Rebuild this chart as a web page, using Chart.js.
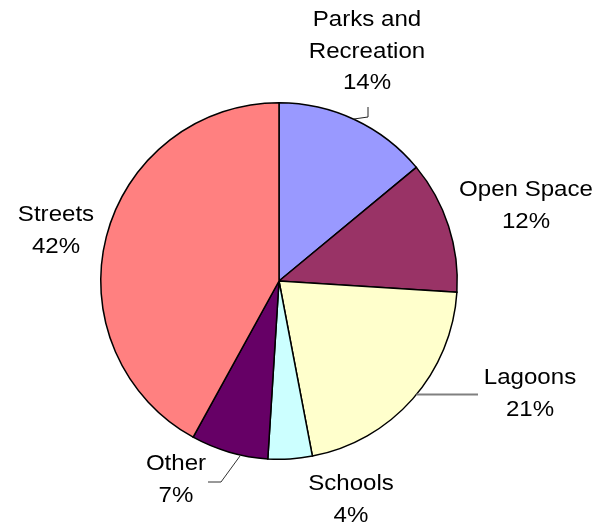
<!DOCTYPE html>
<html>
<head>
<meta charset="utf-8">
<script src="https://cdn.jsdelivr.net/npm/chart.js@4/dist/chart.umd.min.js"></script>
<style>
html,body{margin:0;padding:0;background:#fff;}
#wrap{width:603px;height:525px;position:relative;}
</style>
</head>
<body>
<div id="wrap"><canvas id="c" width="603" height="525"></canvas></div>
<script>
// ---- data ----
const categories = ["Parks and Recreation", "Open Space", "Lagoons", "Schools", "Other", "Streets"];
const labelLines = [["Parks and", "Recreation"], ["Open Space"], ["Lagoons"], ["Schools"], ["Other"], ["Streets"]];
const shares = [14, 12, 21, 4, 7, 42];
const sliceColors = ["#9999FF", "#993366", "#FFFFCC", "#CCFFFF", "#660066", "#FF8080"];

// ---- layout (label block centres relative to pie centre, leader elbows) ----
const labelOffsets = [[88, -229], [247, -75], [251, 113], [72, 219], [-103, 199], [-223, -50]];
const leaderAnchor = [0.49, 0.5, 0.476, 0.5, 0.35, 0.5];
const leaderElbows = [[[89, -164], [89, -174]], null, [[199, null]], null, [[-58, 201], [-71, 201]], null];
const leaderStyles = [{c:"#222", w:1}, null, {c:"#808080", w:2}, null, {c:"#333", w:1}, null];

const labelPlugin = {
  id: 'pieLabels',
  afterDatasetsDraw(chart) {
    const ctx = chart.ctx;
    const meta = chart.getDatasetMeta(0);
    ctx.save();
    meta.data.forEach((arc, i) => {
      const cx = arc.x, cy = arc.y, r = arc.outerRadius;
      const a = arc.startAngle + (arc.endAngle - arc.startAngle) * leaderAnchor[i];
      // leader line
      if (leaderElbows[i]) {
        const st = leaderStyles[i];
        ctx.beginPath();
        ctx.strokeStyle = st.c;
        ctx.lineWidth = st.w;
        let px = cx + Math.cos(a) * r, py = cy + Math.sin(a) * r;
        ctx.moveTo(px, py);
        leaderElbows[i].forEach(p => {
          px = p[0] === null ? px : cx + p[0];
          py = p[1] === null ? py : cy + p[1];
          ctx.lineTo(px, py);
        });
        ctx.stroke();
      }
      // text
      const lines = labelLines[i].concat([shares[i] + "%"]);
      const lh = 31.5;
      const bx = cx + labelOffsets[i][0];
      const by = cy + labelOffsets[i][1];
      ctx.fillStyle = "#000";
      ctx.font = "21.5px 'Liberation Sans', Arial, sans-serif";
      ctx.textAlign = "center";
      ctx.textBaseline = "middle";
      lines.forEach((t, k) => {
        const y = by + (k - (lines.length - 1) / 2) * lh;
        ctx.save();
        ctx.translate(bx, y);
        ctx.scale(1.12, 1);
        ctx.fillText(t, 0, 0);
        ctx.restore();
      });
    });
    ctx.restore();
  }
};

new Chart(document.getElementById('c'), {
  type: 'pie',
  data: {
    labels: categories,
    datasets: [{
      data: shares,
      backgroundColor: sliceColors,
      borderColor: "#000",
      borderWidth: 1.5,
      borderJoinStyle: 'miter'
    }]
  },
  options: {
    responsive: false,
    animation: false,
    layout: { padding: { left: 100, right: 145, top: 102, bottom: 65 } },
    plugins: {
      legend: { display: false },
      tooltip: { enabled: false }
    }
  },
  plugins: [labelPlugin]
});
</script>
</body>
</html>
